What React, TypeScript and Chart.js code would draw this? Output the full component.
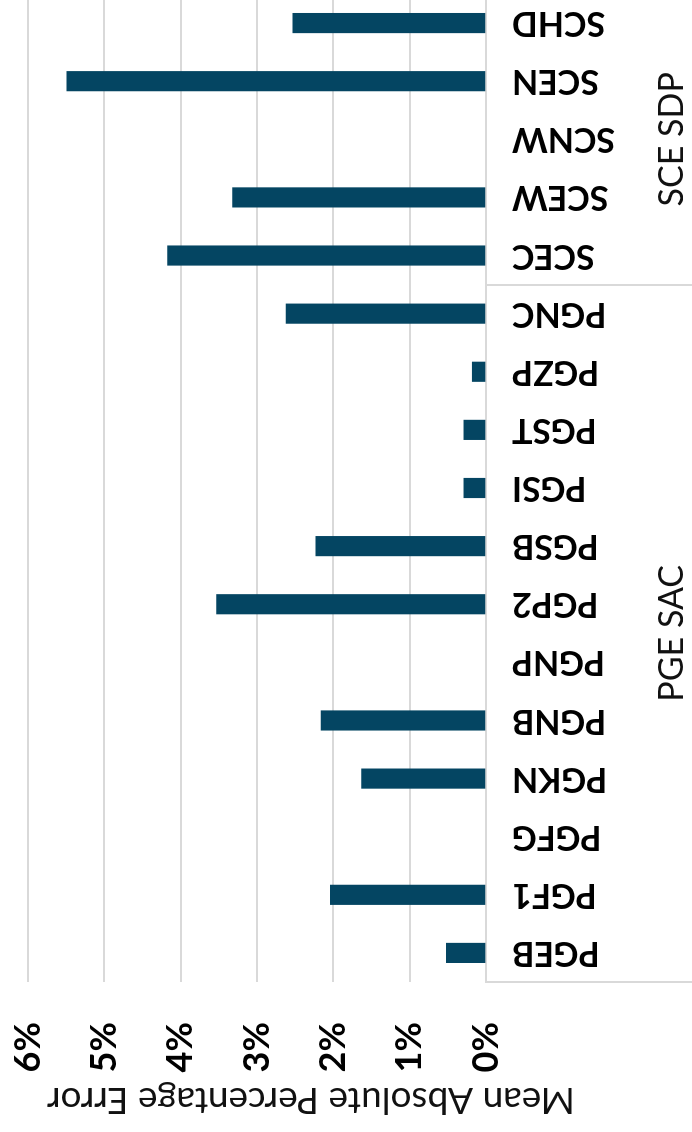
import React, { useEffect, useRef } from 'react';
import { Chart, registerables } from 'chart.js';

Chart.register(...registerables);

// ---- data ----
const categories = ['PGEB', 'PGF1', 'PGFG', 'PGKN', 'PGNB', 'PGNP', 'PGP2', 'PGSB', 'PGSI', 'PGST', 'PGZP', 'PGNC', 'SCEC', 'SCEW', 'SCNW', 'SCEN', 'SCHD'];
const mapeValues: (number | null)[] = [0.52, 2.04, null, 1.63, 2.16, null, 3.53, 2.23, 0.29, 0.29, 0.18, 2.62, 4.17, 3.32, null, 5.49, 2.53];
const groupLabels = ['PGE SAC', 'SCE SDP'];
const groupSizes = [12, 5];
const valueTicks = [0, 1, 2, 3, 4, 5, 6];
const axisTitle = 'Mean Absolute Percentage Error';

// ---- layout (unrotated chart, then rotated -90deg on the page) ----
const CANVAS_W = 1158;
const CANVAS_H = 692;
const PAGE_H = 1132;
const FONT = 'Lato, "Open Sans", sans-serif';
const GRID = '#d9d9d9';

const groupPlugin = {
  id: 'groupAxis',
  afterDraw(chart: any) {
    const { ctx, chartArea, scales } = chart;
    const x = scales.x;
    const band = x.getPixelForValue(1) - x.getPixelForValue(0);
    ctx.save();
    // separators
    ctx.strokeStyle = GRID;
    ctx.lineWidth = 2;
    let idx = 0;
    const edges: number[] = [x.getPixelForValue(0) - band / 2];
    groupSizes.forEach((n) => {
      idx += n;
      edges.push(x.getPixelForValue(idx - 1) + band / 2);
    });
    edges.forEach((e) => {
      ctx.beginPath();
      ctx.moveTo(Math.round(e), chartArea.bottom);
      ctx.lineTo(Math.round(e), chart.height);
      ctx.stroke();
    });
    // group labels
    ctx.fillStyle = '#111';
    ctx.font = `normal 34px ${FONT}`;
    ctx.textAlign = 'center';
    ctx.textBaseline = 'alphabetic';
    groupLabels.forEach((g, i) => {
      const cx = (edges[i] + edges[i + 1]) / 2;
      ctx.fillText(g, cx, 683);
    });
    // value axis title
    ctx.translate(44, 311);
    ctx.rotate(-Math.PI / 2);
    ctx.font = `normal 37px ${FONT}`;
    ctx.fillText(axisTitle, 0, 0);
    ctx.restore();
  },
};

export default function App() {
  const ref = useRef<HTMLCanvasElement | null>(null);

  useEffect(() => {
    if (!ref.current) return;
    const chart = new Chart(ref.current, {
      type: 'bar',
      data: {
        labels: categories,
        datasets: [
          {
            data: mapeValues,
            backgroundColor: '#044562',
            borderWidth: 0,
            barThickness: 19.5,
          },
        ],
      },
      options: {
        responsive: false,
        animation: false,
        devicePixelRatio: 1,
        layout: { padding: { top: 28, right: 20, left: 0, bottom: 0 } },
        plugins: {
          legend: { display: false },
          tooltip: { enabled: false },
        },
        scales: {
          x: {
            grid: { display: false, drawTicks: true, tickLength: 26 },
            border: { display: true, color: GRID, width: 2 },
            ticks: {
              autoSkip: false,
              minRotation: 90,
              maxRotation: 90,
              padding: 0,
              color: '#000',
              font: { family: FONT, size: 34, weight: 'bold' },
            },
            afterFit(s: any) {
              s.height = 206;
            },
          },
          y: {
            min: valueTicks[0],
            max: valueTicks[valueTicks.length - 1],
            ticks: {
              stepSize: 1,
              padding: 0,
              color: '#000',
              font: { family: FONT, size: 36, weight: 'bold' },
              callback: (v: any) => `${v}%`,
            },
            grid: { color: GRID, lineWidth: 2, drawTicks: true, tickLength: 40, tickColor: 'rgba(0,0,0,0)' },
            border: { display: false },
            afterFit(s: any) {
              s.width = 150;
            },
          },
        },
      },
      plugins: [groupPlugin],
    });
    return () => chart.destroy();
  }, []);

  return (
    <div
      style={{
        position: 'fixed',
        left: 0,
        top: 0,
        width: 692,
        height: PAGE_H,
        overflow: 'hidden',
        background: '#fff',
      }}
    >
      <canvas
        ref={ref}
        width={CANVAS_W}
        height={CANVAS_H}
        style={{
          position: 'absolute',
          left: 0,
          top: 0,
          width: CANVAS_W,
          height: CANVAS_H,
          transformOrigin: '0 0',
          transform: `translate(0px, ${PAGE_H}px) rotate(-90deg)`,
        }}
      />
    </div>
  );
}
